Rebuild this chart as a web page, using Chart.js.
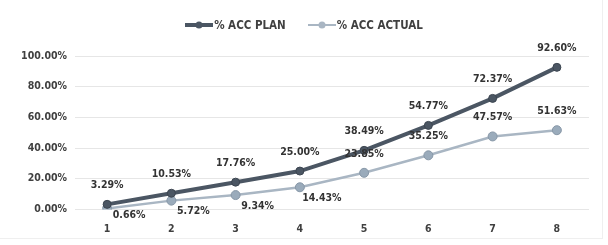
<!DOCTYPE html>
<html>
<head>
<meta charset="utf-8">
<script src="https://cdn.jsdelivr.net/npm/chart.js@4.4.1/dist/chart.umd.min.js"></script>
<style>
  html, body { margin: 0; padding: 0; background: #fff; }
  #wrap { position: relative; width: 608px; height: 245px; }
  #frame {
    position: absolute; left: 0; top: 0; width: 602px; height: 238px;
    border-right: 1px solid #efefef; border-bottom: 1px solid #efefef;
    pointer-events: none;
  }
  #legend {
    position: absolute; top: 18px; left: 0; width: 608px;
    display: flex; justify-content: center; gap: 22px;
    font: bold 11.5px 'Liberation Sans Narrow', 'DejaVu Sans Condensed', sans-serif;
    color: #404040;
  }
  .item { display: flex; align-items: center; gap: 1px; }
  .swatch { position: relative; width: 28px; height: 12px; }
  .swatch .ln { position: absolute; left: 0; right: 0; top: 50%; }
  .swatch .dot { position: absolute; left: 50%; top: 50%; width: 7px; height: 7px; border-radius: 50%; transform: translate(-50%, -50%); }
</style>
</head>
<body>
<div id="wrap">
  <canvas id="chart" width="608" height="245"></canvas>
  <div id="frame"></div>
  <div id="legend"></div>
</div>
<script>
// Chart data
const categories = ['1', '2', '3', '4', '5', '6', '7', '8'];
const planValues = [3.29, 10.53, 17.76, 25.00, 38.49, 54.77, 72.37, 92.60];
const actualValues = [0.66, 5.72, 9.34, 14.43, 23.85, 35.25, 47.57, 51.63];
const seriesNames = ['% ACC PLAN', '% ACC ACTUAL'];

const planColor = '#4b5663';
const actualColor = '#a9b6c3';
const fontFamily = "'Liberation Sans Narrow', 'DejaVu Sans Condensed', sans-serif";

function pct(v) {
    return v.toFixed(2) + '%';
}

// Draw the value labels like the spreadsheet does
const valueLabels = {
    id: 'valueLabels',
    afterDatasetsDraw(chart) {
        const ctx = chart.ctx;
        ctx.save();
        ctx.font = 'bold 10.5px ' + fontFamily;
        ctx.fillStyle = '#333';
        ctx.textAlign = 'center';
        ctx.textBaseline = 'middle';
        chart.data.datasets.forEach((ds, di) => {
            const meta = chart.getDatasetMeta(di);
            meta.data.forEach((pt, i) => {
                let x = pt.x, y = pt.y - 19;
                if (di === 1 && i < 4) {
                    // first actual points sit under-right of the marker
                    x = pt.x + 22;
                    y = pt.y + (i === 0 ? 7 : 11);
                }
                ctx.fillText(pct(ds.data[i]), x, y);
            });
        });
        ctx.restore();
    }
};

function buildLegend() {
    const el = document.getElementById('legend');
    const styles = [
        { color: planColor, width: 4 },
        { color: actualColor, width: 2 }
    ];
    seriesNames.forEach((name, i) => {
        const item = document.createElement('div');
        item.className = 'item';
        item.innerHTML = '<span class="swatch"><span class="ln" style="border-top:' + styles[i].width + 'px solid ' + styles[i].color + ';margin-top:-' + (styles[i].width / 2) + 'px"></span><span class="dot" style="background:' + styles[i].color + '"></span></span><span>' + name + '</span>';
        el.appendChild(item);
    });
}

function initChart() {
    const ctx = document.getElementById('chart').getContext('2d');
    new Chart(ctx, {
        type: 'line',
        data: {
            labels: categories,
            datasets: [{
                label: seriesNames[0],
                data: planValues,
                borderColor: planColor,
                backgroundColor: planColor,
                borderWidth: 4,
                pointRadius: 4,
                pointBorderWidth: 1,
                pointBorderColor: '#3c4550',
                tension: 0
            }, {
                label: seriesNames[1],
                data: actualValues,
                borderColor: actualColor,
                backgroundColor: '#9aabbb',
                borderWidth: 2.5,
                pointRadius: 4.5,
                pointBorderWidth: 1,
                pointBorderColor: '#8797a7',
                tension: 0
            }]
        },
        options: {
            responsive: false,
            animation: false,
            layout: { padding: { left: 0, top: 56, right: 19, bottom: 3 } },
            plugins: {
                legend: { display: false },
                tooltip: { enabled: false }
            },
            scales: {
                x: {
                    offset: true,
                    grid: { display: false },
                    border: { display: false },
                    ticks: {
                        color: '#404040',
                        font: { family: fontFamily, size: 10.5, weight: 'bold' },
                        padding: 6
                    }
                },
                y: {
                    min: 0,
                    max: 100,
                    border: { display: false },
                    grid: { color: '#e6e6e6', drawTicks: false },
                    afterFit(scale) { scale.width = 75; },
                    ticks: {
                        stepSize: 20,
                        padding: 8,
                        color: '#404040',
                        font: { family: fontFamily, size: 10.5, weight: 'bold' },
                        callback: v => pct(v)
                    }
                }
            }
        },
        plugins: [valueLabels]
    });
}

buildLegend();
initChart();
</script>
</body>
</html>
